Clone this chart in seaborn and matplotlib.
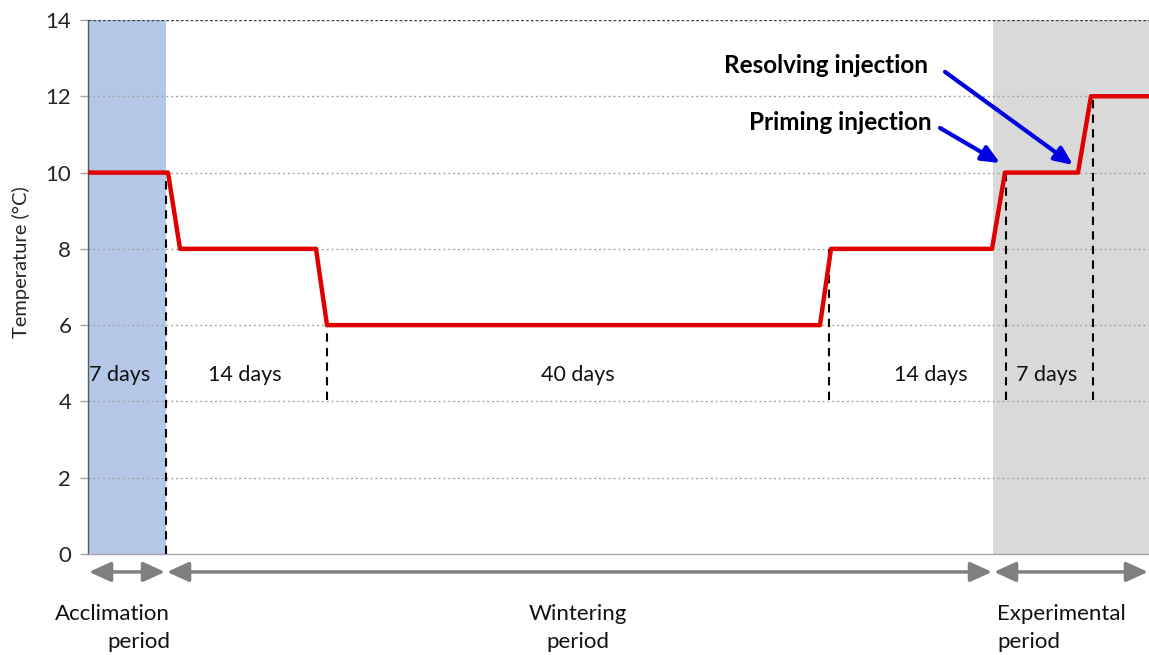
import matplotlib
matplotlib.use("Agg")
import matplotlib.pyplot as plt
import seaborn as sns
import pandas as pd

# ---- data (schematic time axis, arbitrary units) ----
time_pts = [0, 80, 92, 228, 239, 732, 743, 904, 917, 990, 1003, 1061]
temp_pts = [10, 10, 8, 8, 6, 6, 8, 8, 10, 10, 12, 12]

period_bounds = [0, 78, 905, 1061]
period_names = ["Acclimation\nperiod", "Wintering\nperiod", "Experimental\nperiod"]

dash_x = [78, 239, 741, 918, 1005]
dash_lo = [0, 4.05, 4.05, 4.05, 4.05]
dash_hi = [10, 6, 8, 10, 12]

day_labels = ["7 days", "14 days", "40 days", "14 days", "7 days"]
day_label_x = [32, 157, 490, 843, 959]
day_label_y = 4.69

y_ticks = [0, 2, 4, 6, 8, 10, 12, 14]

sns.set_theme(style="white")
plt.rcParams["font.family"] = ["Lato", "DejaVu Sans"]

fig = plt.figure(figsize=(11.49, 6.55), dpi=100)
ax = fig.add_axes([88 / 1149, 101 / 655, 1 - 88 / 1149, 534 / 655])

# shaded periods
ax.axvspan(period_bounds[0], period_bounds[1], color="#B4C7E7", zorder=0, lw=0)
ax.axvspan(period_bounds[2], period_bounds[3], color="#D9D9D9", zorder=0, lw=0)

# gridlines
for yv in y_ticks[1:-1]:
    ax.axhline(yv, color="#A6A6A6", lw=1.0, ls=(0, (1.5, 2.0)), zorder=1)
ax.axhline(14, color="#404040", lw=1.0, ls=(0, (2, 1.5)), zorder=1)

# temperature profile
df = pd.DataFrame({"time": time_pts, "temp": temp_pts})
sns.lineplot(data=df, x="time", y="temp", ax=ax, color="#E00000", lw=3.2,
             sort=False, estimator=None, zorder=4)

# dashed boundaries
for xv, lo, hi in zip(dash_x, dash_lo, dash_hi):
    ax.plot([xv, xv], [lo, hi], color="black", lw=1.5, ls=(0, (4, 3)), zorder=3)

# day labels
for lab, xv in zip(day_labels, day_label_x):
    ax.text(xv, day_label_y, lab, ha="center", va="center", fontsize=15.5, color="#111111")

ax.set_xlim(0, 1061)
ax.set_ylim(0, 14)
ax.set_yticks(y_ticks)
ax.set_xticks([])
ax.set_xlabel("")
ax.set_ylabel("Temperature (°C)", fontsize=14.5)
ax.yaxis.set_label_coords(-0.0547, 0.547)
ax.tick_params(axis="y", labelsize=16, length=6, width=1, color="#A6A6A6",
               direction="out", pad=6, left=True)

for s in ["top", "right"]:
    ax.spines[s].set_visible(False)
ax.spines["left"].set_color("#595959")
ax.spines["left"].set_linewidth(1.0)
ax.spines["bottom"].set_color("#A6A6A6")
ax.spines["bottom"].set_linewidth(1.0)

# period arrows
arrow_y = -0.47
for a, b in zip(period_bounds[:-1], period_bounds[1:]):
    ax.annotate("", xy=(b - 1, arrow_y), xytext=(a + 1, arrow_y),
                xycoords="data", textcoords="data", annotation_clip=False,
                arrowprops=dict(arrowstyle="<|-|>,head_length=1.1,head_width=0.5",
                                color="#7F7F7F", lw=2.5, shrinkA=0, shrinkB=0))

# period labels
lab_y = -1.3
ax.text(82, lab_y, period_names[0], ha="right", va="top", multialignment="right",
        fontsize=16, color="#111111", linespacing=1.55, clip_on=False)
ax.text(490, lab_y, period_names[1], ha="center", va="top", multialignment="center",
        fontsize=16, color="#111111", linespacing=1.55, clip_on=False)
ax.text(909, lab_y, period_names[2], ha="left", va="top", multialignment="left",
        fontsize=16, color="#111111", linespacing=1.55, clip_on=False)

# injection annotations
ax.text(840, 12.82, "Resolving injection", ha="right", va="center",
        fontsize=17.5, fontweight="bold", color="black")
ax.annotate("", xy=(985, 10.2), xytext=(857, 12.64),
            arrowprops=dict(arrowstyle="-|>,head_length=0.9,head_width=0.4",
                            color="#0000E0", lw=3, shrinkA=0, shrinkB=0))
ax.text(844, 11.3, "Priming injection", ha="right", va="center",
        fontsize=17.5, fontweight="bold", color="black")
ax.annotate("", xy=(912, 10.25), xytext=(852, 11.17),
            arrowprops=dict(arrowstyle="-|>,head_length=0.9,head_width=0.4",
                            color="#0000E0", lw=3, shrinkA=0, shrinkB=0))

fig.savefig("out.png", dpi=100)
